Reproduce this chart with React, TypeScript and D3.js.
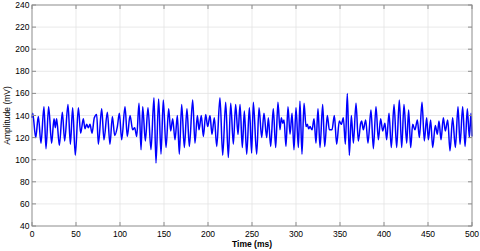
import { useEffect, useRef } from "react";
import * as d3 from "d3";

// signal: local peaks and troughs (ms, mV)
const timeMs = [
  0, 0.8, 4.2, 7.2, 10.2, 13.6, 15.9, 18.9, 22.3, 25.0, 26.5, 28.0, 31.1, 34.5, 37.1, 40.9, 43.6, 46.2, 49.2,
  52.7, 55.3, 58.3, 60.2, 62.1, 64.0, 65.9, 68.2, 70.8, 73.5, 75.4, 79.2, 81.8, 85.6, 88.6, 91.3, 94.0, 97.0,
  99.3, 101.9, 105.7, 108.3, 111.4, 114.4, 116.7, 119.0, 121.6, 123.9,
  125.8, 128.8, 131.8, 135.2, 138.6, 140.9, 143.9, 146.6, 149.2, 152.3, 155.3, 157.6, 159.9, 162.5, 165.2,
  167.4, 170.1, 173.1, 176.1, 178.8, 182.6, 185.2, 187.9, 189.8, 192.4, 194.7, 197.4, 199.6, 202.3, 204.5,
  207.2, 209.9, 213.6, 216.7, 220.1, 223.1, 225.8, 228.8, 231.4, 234.1, 236.4, 239.0, 241.3, 244.0, 247.0,
  249.6, 251.5, 255.3, 258.0, 261.0, 263.6, 266.7, 268.6, 271.2, 274.2, 276.9, 279.5, 281.8, 283.3, 284.9,
  286.4, 288.6, 290.9, 293.2, 295.5, 297.7, 300.0, 302.7, 304.5, 306.8, 309.1, 311.4, 312.9, 314.4, 315.9,
  318.2, 320.5, 322.7, 325.0, 327.3, 330.3, 332.6, 335.6, 337.9, 340.9, 343.6, 346.2, 349.2, 351.5, 353.8,
  356.1, 358.3, 360.6, 362.9, 365.2, 368.2, 370.8, 373.5, 374.6, 376.5, 379.2, 381.8, 385.2, 387.9, 390.9,
  393.6, 396.2, 398.5, 401.1, 403.0, 405.7, 408.3, 411.4, 414.4, 417.4, 420.1, 422.7, 425.8, 428.0, 430.3,
  432.6, 435.2, 437.9, 440.2, 443.2, 445.8, 448.5, 450.4, 453.0, 455.3, 458.3, 460.6, 462.5, 464.8, 467.4,
  469.7, 472.4, 475.0, 478.0, 481.1, 484.1, 486.4, 489.4, 492.1, 494.7, 497.0, 498.9, 500,
];
const amplitudeMv = [
  138, 142, 120, 139, 115, 148, 110, 148, 115, 137, 129, 137, 113, 143, 117, 150, 114, 147, 104,
  147, 124, 137, 128, 132, 129, 132, 124, 138, 141, 114, 146, 118, 143, 114, 139, 122, 130,
  142, 118, 148, 121, 140, 127, 129, 121, 151, 109,
  148, 117, 147, 109, 156, 97, 155, 105, 154, 111, 146, 126, 137, 118, 140,
  105, 150, 111, 146, 112, 154, 115, 140, 127, 140, 121, 141, 130, 140, 123,
  138, 112, 156, 104, 152, 102, 151, 114, 150, 123, 150, 111, 144, 105, 147,
  106, 152, 105, 147, 120, 142, 120, 138, 112, 146, 111, 152, 127, 138, 133,
  136, 112, 148, 123, 142, 109, 147, 111, 153, 105, 151, 130, 132, 128, 130,
  127, 137, 115, 146, 111, 150, 112, 140, 127, 127, 140, 114, 135, 132, 138,
  114, 160, 104, 140, 115, 151, 117, 133, 135, 127, 136, 115, 145, 110, 148,
  118, 137, 126, 133, 118, 142, 111, 150, 111, 154, 111, 150, 115, 145, 111,
  132, 127, 136, 120, 152, 117, 138, 118, 136, 111, 131, 123, 135, 118, 138,
  126, 136, 108, 138, 111, 148, 114, 148, 112, 146, 120, 142, 121,
];
const xTicks = [0, 50, 100, 150, 200, 250, 300, 350, 400, 450, 500];
const yTicks = [40, 60, 80, 100, 120, 140, 160, 180, 200, 220, 240];

const W = 480;
const H = 251;

export default function App() {
  const svgRef = useRef<SVGSVGElement | null>(null);

  useEffect(() => {
    const svgEl = svgRef.current;
    if (!svgEl) return;
    const svg = d3.select(svgEl);
    svg.selectAll("*").remove();

    const left = 32, right = 472, top = 5, bottom = 226;
    const x = d3.scaleLinear().domain([0, 500]).range([left, right]);
    const y = d3.scaleLinear().domain([40, 240]).range([bottom, top]);
    const font = "Arial, 'Liberation Sans', Helvetica, sans-serif";

    svg.append("rect").attr("width", W).attr("height", H).attr("fill", "#fff");

    // grid
    const grid = svg.append("g").attr("stroke", "#e3e3e3").attr("stroke-width", 0.8);
    xTicks.slice(1, -1).forEach((t) => {
      grid.append("line").attr("x1", x(t)).attr("x2", x(t)).attr("y1", top).attr("y2", bottom);
    });
    yTicks.slice(1, -1).forEach((t) => {
      grid.append("line").attr("x1", left).attr("x2", right).attr("y1", y(t)).attr("y2", y(t));
    });

    // signal
    const points = timeMs.map((t, i) => [t, amplitudeMv[i]] as [number, number]);
    const line = d3
      .line<[number, number]>()
      .x((d) => x(d[0]))
      .y((d) => y(d[1]))
      .curve(d3.curveMonotoneX);
    svg
      .append("path")
      .datum(points)
      .attr("fill", "none")
      .attr("stroke", "#0000ff")
      .attr("stroke-width", 1.5)
      .attr("stroke-linejoin", "round")
      .attr("d", line);

    // box and inward ticks
    const axis = svg.append("g").attr("stroke", "#8c8c8c").attr("stroke-width", 1);
    axis
      .append("rect")
      .attr("x", left)
      .attr("y", top)
      .attr("width", right - left)
      .attr("height", bottom - top)
      .attr("fill", "none");
    const tl = 4;
    xTicks.forEach((t) => {
      axis.append("line").attr("x1", x(t)).attr("x2", x(t)).attr("y1", bottom).attr("y2", bottom - tl);
      axis.append("line").attr("x1", x(t)).attr("x2", x(t)).attr("y1", top).attr("y2", top + tl);
    });
    yTicks.forEach((t) => {
      axis.append("line").attr("x1", left).attr("x2", left + tl).attr("y1", y(t)).attr("y2", y(t));
      axis.append("line").attr("x1", right).attr("x2", right - tl).attr("y1", y(t)).attr("y2", y(t));
    });

    // tick labels
    const labels = svg
      .append("g")
      .attr("font-family", font)
      .attr("font-size", 8.5)
      .attr("fill", "#000");
    xTicks.forEach((t) => {
      labels
        .append("text")
        .attr("x", x(t))
        .attr("y", 237)
        .attr("text-anchor", "middle")
        .text(t);
    });
    yTicks.forEach((t) => {
      labels
        .append("text")
        .attr("x", left - 2.5)
        .attr("y", y(t) + 3)
        .attr("text-anchor", "end")
        .text(t);
    });

    // axis titles
    labels
      .append("text")
      .attr("x", (left + right) / 2)
      .attr("y", 247)
      .attr("text-anchor", "middle")
      .attr("font-weight", "bold")
      .text("Time (ms)");
    labels
      .append("text")
      .attr("transform", `translate(10,${(top + bottom) / 2}) rotate(-90)`)
      .attr("text-anchor", "middle")
      .text("Amplitude (mV)");
  }, []);

  return (
    <svg
      ref={svgRef}
      width={W}
      height={H}
      style={{ position: "absolute", left: 0, top: 0 }}
      role="img"
      aria-label="Amplitude over time"
    />
  );
}
